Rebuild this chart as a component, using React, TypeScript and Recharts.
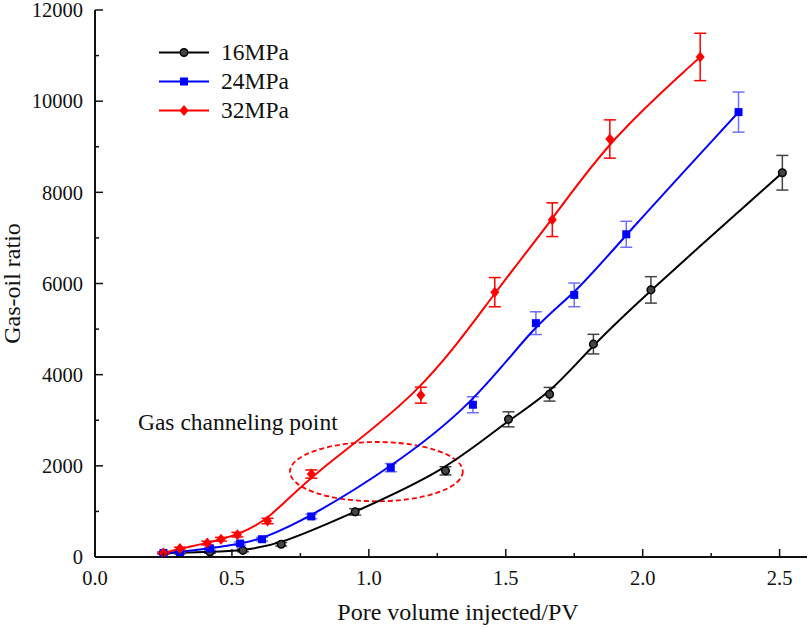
import React from 'react';
import {
  LineChart,
  Line,
  XAxis,
  YAxis,
  ErrorBar,
  ReferenceArea,
} from 'recharts';

// pore volume injected (PV) / gas-oil ratio / error
const pv16 = [0.25, 0.31, 0.42, 0.54, 0.68, 0.95, 1.28, 1.51, 1.66, 1.82, 2.03, 2.51];
const gor16 = [80, 90, 110, 145, 280, 990, 1890, 3020, 3570, 4670, 5860, 8430];
const err16 = [20, 20, 25, 30, 40, 70, 90, 165, 150, 215, 290, 380];

const pv24 = [0.25, 0.31, 0.42, 0.53, 0.61, 0.79, 1.08, 1.38, 1.61, 1.75, 1.94, 2.35];
const gor24 = [90, 110, 185, 295, 390, 890, 1960, 3340, 5130, 5750, 7080, 9760];
const err24 = [20, 20, 30, 35, 40, 50, 90, 175, 250, 260, 285, 440];

const pv32 = [0.25, 0.31, 0.41, 0.46, 0.52, 0.63, 0.79, 1.19, 1.46, 1.67, 1.88, 2.21];
const gor32 = [90, 185, 305, 390, 490, 790, 1820, 3550, 5810, 7400, 9170, 10970];
const err32 = [20, 30, 40, 40, 50, 60, 90, 175, 320, 370, 420, 520];

const xTicks = [0, 0.25, 0.5, 0.75, 1, 1.25, 1.5, 1.75, 2, 2.25, 2.5];
const yTicks = [0, 1000, 2000, 3000, 4000, 5000, 6000, 7000, 8000, 9000, 10000, 11000, 12000];

// gas channeling region (x from/to, y from/to)
const channelX = [0.712, 1.343];
const channelY = [1222, 2523];

const FONT = '"Liberation Serif", serif';
const serif = { fontFamily: FONT };

const toPoints = (xs: number[], ys: number[], es: number[]) =>
  xs.map((x, i) => ({ x, y: ys[i], err: es[i] }));

const data16 = toPoints(pv16, gor16, err16);
const data24 = toPoints(pv24, gor24, err24);
const data32 = toPoints(pv32, gor32, err32);

const CircleMark = ({ cx, cy }: any) => (
  <circle cx={cx} cy={cy} r={3.8} fill="#444" stroke="#000" strokeWidth={1.5} />
);
const SquareMark = ({ cx, cy }: any) => (
  <rect x={cx - 4} y={cy - 4} width={8} height={8} fill="#0000ff" />
);
const DiamondMark = ({ cx, cy }: any) => (
  <polygon
    points={`${cx},${cy - 5.5} ${cx + 4.5},${cy} ${cx},${cy + 5.5} ${cx - 4.5},${cy}`}
    fill="#ff0000"
  />
);

const isMajor = (v: number, step: number) =>
  Math.abs(v / step - Math.round(v / step)) < 1e-6;

const XTick = ({ x, y, payload }: any) => {
  const major = isMajor(payload.value, 0.5);
  return (
    <g>
      <path d={`M${x},${y}V${y - (major ? 8 : 4)}`} style={{ stroke: '#111', strokeWidth: 1.5 }} />
      {major && (
        <text x={x} y={y + 28} textAnchor="middle" style={{ ...serif, fontSize: 20.5, fill: '#111' }}>
          {payload.value.toFixed(1)}
        </text>
      )}
    </g>
  );
};

const YTick = ({ x, y, payload }: any) => {
  const major = isMajor(payload.value, 2000);
  return (
    <g>
      <path d={`M${x},${y}H${x + (major ? 8 : 4)}`} style={{ stroke: '#111', strokeWidth: 1.5 }} />
      {major && (
        <text x={x - 12} y={y} dy="0.35em" textAnchor="end" style={{ ...serif, fontSize: 20.5, fill: '#111' }}>
          {payload.value}
        </text>
      )}
    </g>
  );
};

const XTitle = ({ viewBox }: any) => (
  <text
    x={viewBox.x + viewBox.width / 2 + 7}
    y={viewBox.y + 63}
    textAnchor="middle"
    style={{ ...serif, fontSize: 24, fill: '#111' }}
  >
    Pore volume injected/PV
  </text>
);

const YTitle = ({ viewBox }: any) => {
  const cx = 20;
  const cy = viewBox.y + viewBox.height / 2;
  return (
    <text
      x={cx}
      y={cy}
      transform={`rotate(-90 ${cx} ${cy})`}
      textAnchor="middle"
      style={{ ...serif, fontSize: 24, fill: '#111' }}
    >
      Gas-oil ratio
    </text>
  );
};

const ChannelShape = ({ x, y, width, height }: any) => (
  <g>
    <ellipse
      cx={x + width / 2}
      cy={y + height / 2}
      rx={width / 2}
      ry={height / 2}
      fill="none"
      stroke="#ff0000"
      strokeWidth={1.8}
      strokeDasharray="5 3"
    />
    <text x={x - 152} y={y - 12} style={{ ...serif, fontSize: 23.5, fill: '#111' }}>
      Gas channeling point
    </text>
  </g>
);

const legendItems = [
  { name: '16MPa', color: '#000', Mark: CircleMark },
  { name: '24MPa', color: '#0000ff', Mark: SquareMark },
  { name: '32MPa', color: '#ff0000', Mark: DiamondMark },
];

const ChartLegend = () => (
  <div style={{ position: 'absolute', left: 155, top: 38, fontFamily: FONT }}>
    {legendItems.map(({ name, color, Mark }) => (
      <div key={name} style={{ display: 'flex', alignItems: 'center', height: 29 }}>
        <svg width={60} height={29}>
          <line x1={4} x2={54} y1={14.5} y2={14.5} stroke={color} strokeWidth={2} />
          <Mark cx={29} cy={14.5} />
        </svg>
        <span style={{ fontSize: 23.5, color: '#111', marginLeft: 6, lineHeight: '29px' }}>{name}</span>
      </div>
    ))}
  </div>
);

export default function App() {
  return (
    <div style={{ position: 'absolute', left: 0, top: 0, width: 809, height: 627, background: '#fff' }}>
      <LineChart width={809} height={627} margin={{ top: 10, right: 2, left: 0, bottom: 0 }}>
        <XAxis
          type="number"
          dataKey="x"
          domain={[0, 2.6]}
          ticks={xTicks}
          interval={0}
          height={70}
          tickSize={0}
          tickMargin={0}
          tickLine={false}
          axisLine={{ stroke: '#111', strokeWidth: 2 }}
          tick={<XTick />}
          label={<XTitle />}
          allowDataOverflow
        />
        <XAxis
          xAxisId="top"
          orientation="top"
          type="number"
          domain={[0, 2.6]}
          height={0}
          tick={false}
          tickLine={false}
          axisLine={{ stroke: '#111', strokeWidth: 2 }}
        />
        <YAxis
          type="number"
          domain={[0, 12000]}
          ticks={yTicks}
          interval={0}
          width={95}
          tickSize={0}
          tickMargin={0}
          tickLine={false}
          axisLine={{ stroke: '#111', strokeWidth: 2 }}
          tick={<YTick />}
          label={<YTitle />}
          allowDataOverflow
        />
        <YAxis
          yAxisId="right"
          orientation="right"
          type="number"
          domain={[0, 12000]}
          width={0}
          tick={false}
          tickLine={false}
          axisLine={{ stroke: '#111', strokeWidth: 2 }}
        />
        <ReferenceArea
          x1={channelX[0]}
          x2={channelX[1]}
          y1={channelY[0]}
          y2={channelY[1]}
          ifOverflow="visible"
          shape={<ChannelShape />}
        />
        <Line
          data={data16}
          dataKey="y"
          name="16MPa"
          type="basis"
          stroke="#000"
          strokeWidth={2}
          dot={(p: any) => <CircleMark key={`b${p.index}`} cx={p.cx} cy={p.cy} />}
          isAnimationActive={false}
        >
          <ErrorBar dataKey="err" direction="y" width={6} stroke="#444" strokeWidth={1.5} />
        </Line>
        <Line
          data={data24}
          dataKey="y"
          name="24MPa"
          type="basis"
          stroke="#0000ff"
          strokeWidth={2}
          dot={(p: any) => <SquareMark key={`s${p.index}`} cx={p.cx} cy={p.cy} />}
          isAnimationActive={false}
        >
          <ErrorBar dataKey="err" direction="y" width={6} stroke="#6f6fff" strokeWidth={1.5} />
        </Line>
        <Line
          data={data32}
          dataKey="y"
          name="32MPa"
          type="basis"
          stroke="#ff0000"
          strokeWidth={2}
          dot={(p: any) => <DiamondMark key={`d${p.index}`} cx={p.cx} cy={p.cy} />}
          isAnimationActive={false}
        >
          <ErrorBar dataKey="err" direction="y" width={6} stroke="#ff0000" strokeWidth={1.5} />
        </Line>
      </LineChart>
      <ChartLegend />
    </div>
  );
}
